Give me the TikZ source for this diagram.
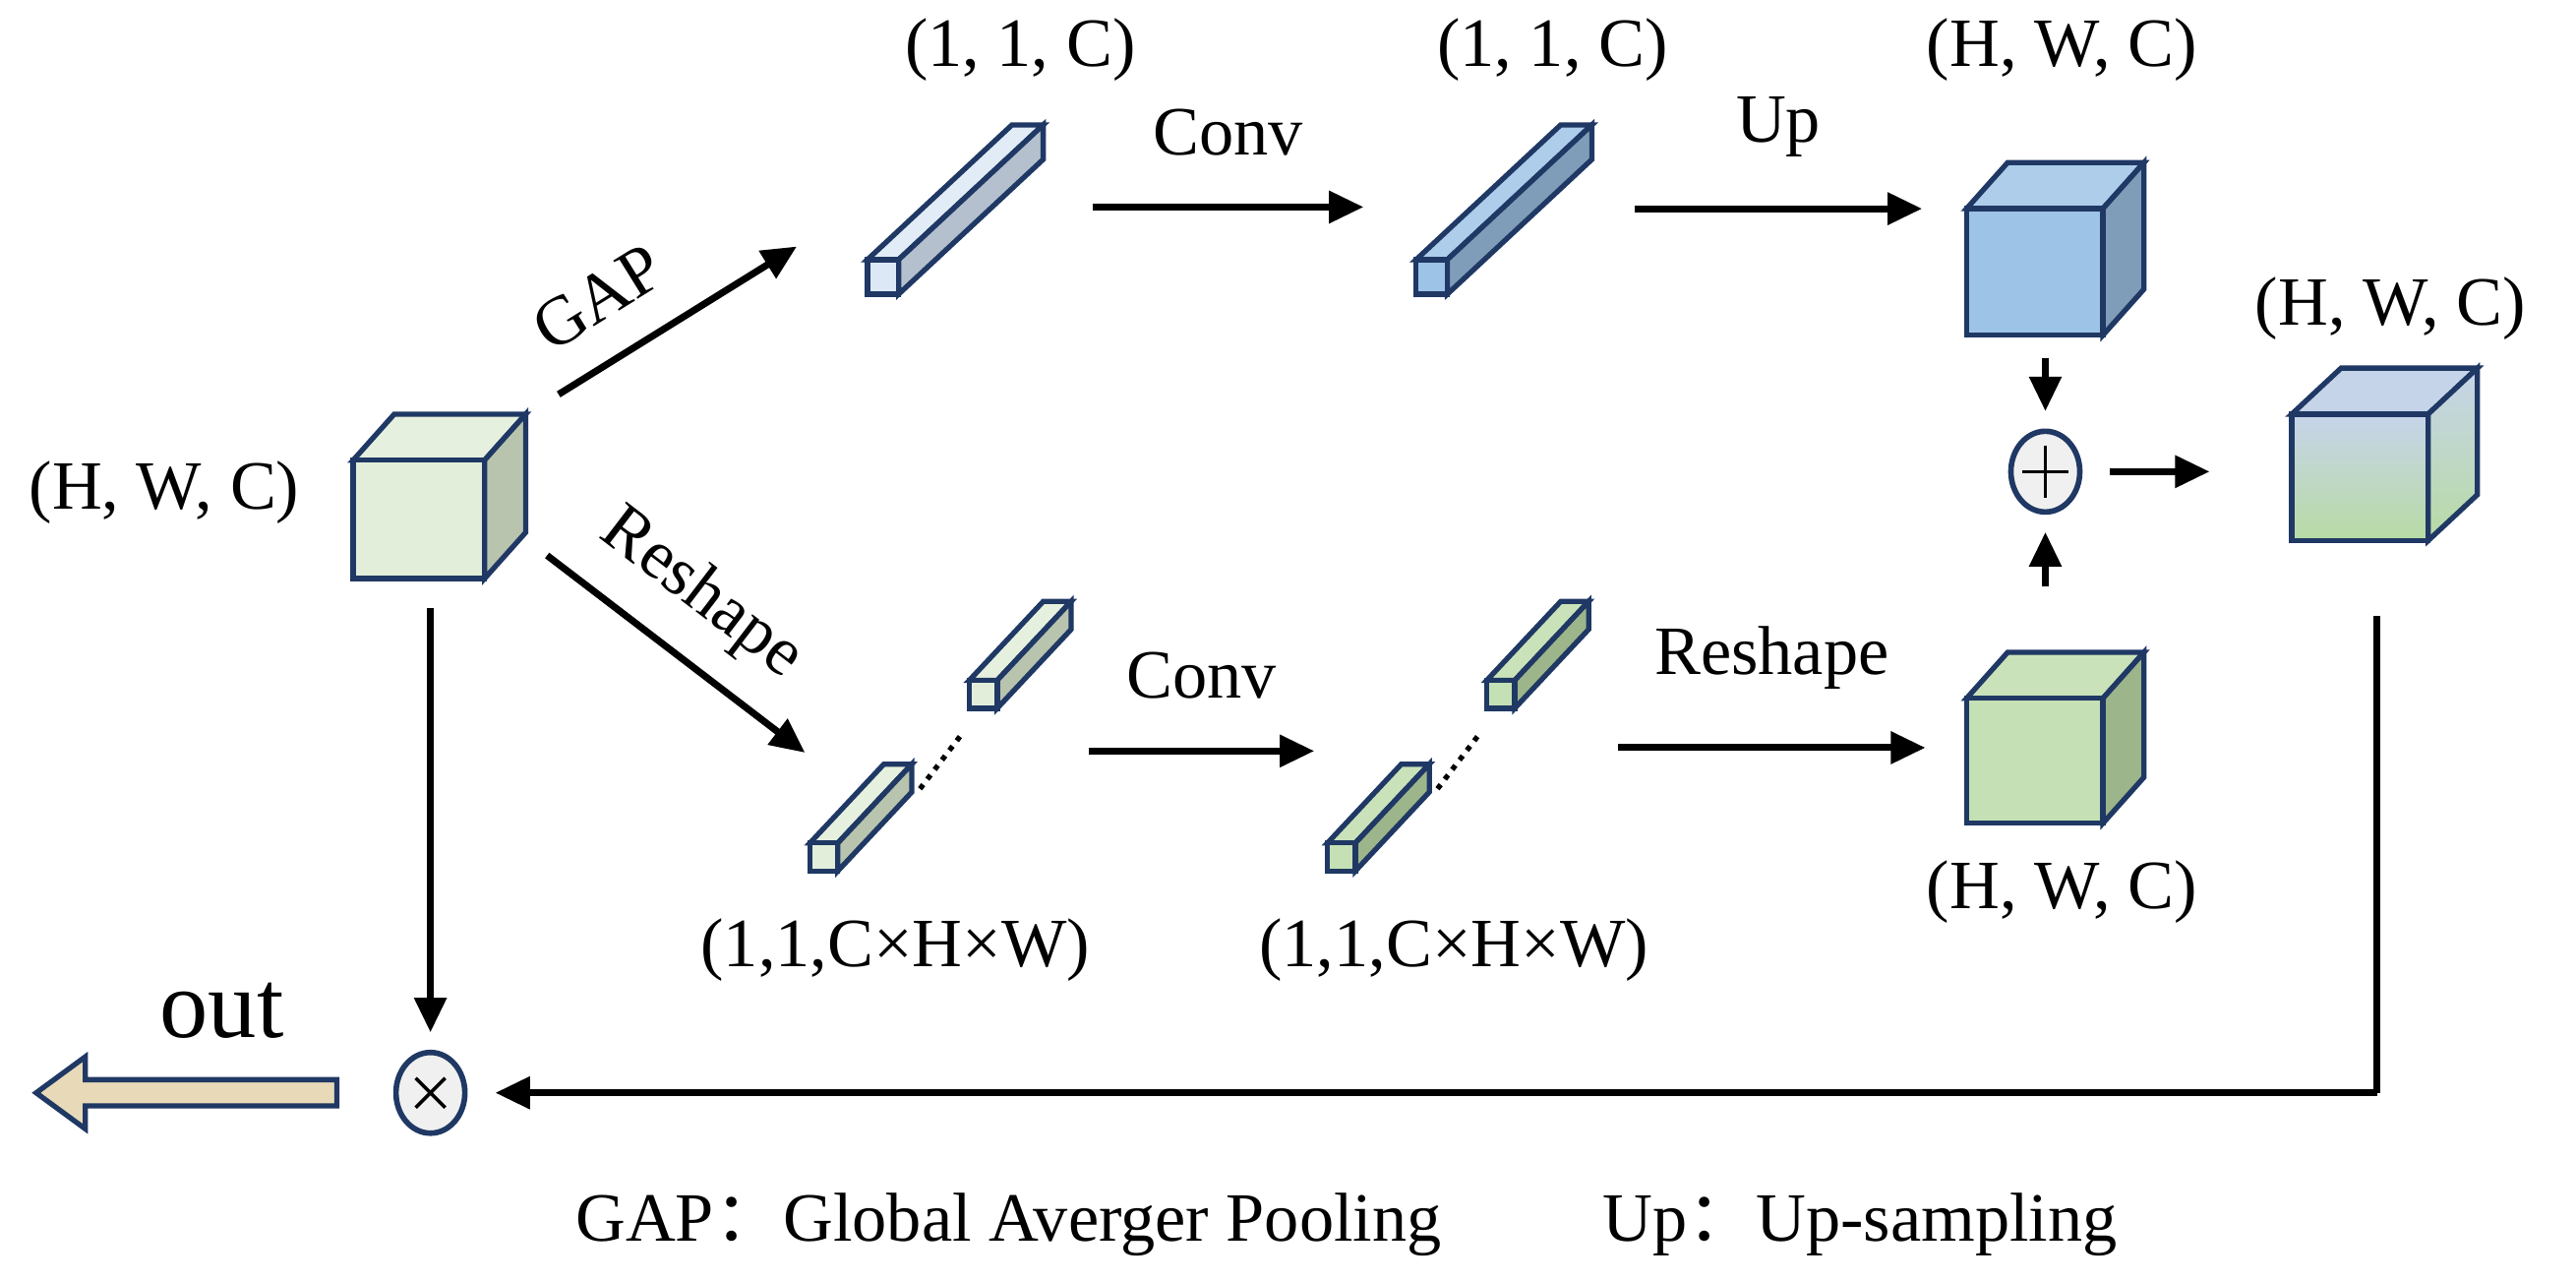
\documentclass[tikz,border=0pt]{standalone}
\usepackage{fontspec}
\setmainfont{Liberation Serif}
\newfontfamily\cjk{Noto Sans CJK SC}
\usetikzlibrary{arrows.meta,shapes.geometric}
\definecolor{edge}{HTML}{1F3864}
\definecolor{lgF}{HTML}{E2EEDA}\definecolor{lgT}{HTML}{E6F0DE}\definecolor{lgS}{HTML}{B8C4AE}
\definecolor{lbF}{HTML}{DCE8F5}\definecolor{lbT}{HTML}{E2ECF7}\definecolor{lbS}{HTML}{B4C0CE}
\definecolor{bF}{HTML}{9DC3E6}\definecolor{bT}{HTML}{ADCDEB}\definecolor{bS}{HTML}{7F9DB8}
\definecolor{gF}{HTML}{C5E0B4}\definecolor{gT}{HTML}{C9E2B9}\definecolor{gS}{HTML}{9DB58A}
\definecolor{mT}{HTML}{C6D4EA}\definecolor{mB}{HTML}{B8DBA4}
\definecolor{outc}{HTML}{E8DAB8}
\newcommand\mycube[9]{%
 \draw[edge,line width=1.5pt,line join=miter,fill=#8] (#1,#2) -- ++(#5,-#6) -- ++(#3,0) -- ++(-#5,#6) -- cycle;
 \draw[edge,line width=1.5pt,line join=miter,fill=#9] ({#1+#3},#2) -- ++(#5,-#6) -- ++(0,#4) -- ++(-#5,#6) -- cycle;
 \draw[edge,line width=1.5pt,line join=miter,fill=#7] (#1,#2) rectangle ++(#3,#4);}
\begin{document}
\begin{tikzpicture}[x=0.0167cm,y=-0.0167cm,
 lbl/.style={font=\fontsize{20}{24}\selectfont,inner sep=0pt},
 arr/.style={line width=2pt,-{Triangle[length=10pt,width=9pt]}},
 op/.style={ellipse,draw=edge,line width=1.6pt,fill=gray!12,minimum width=0.7cm,minimum height=0.82cm,inner sep=0pt}]
\useasboundingbox (0,0) rectangle (1568,780);
% input cube
\mycube{215}{280}{80}{72}{25}{28}{lgF}{lgT}{lgS}
\node[lbl] at (100,300) {(H, W, C)};
% top bars
\mycube{528}{158}{19}{21}{88}{82}{lbF}{lbT}{lbS}
\mycube{862}{158}{19}{21}{88}{82}{bF}{bT}{bS}
\node[lbl] at (621,30) {(1, 1, C)};
\node[lbl] at (945,30) {(1, 1, C)};
% blue cube
\mycube{1197}{127}{83}{77}{25}{28}{bF}{bT}{bS}
\node[lbl] at (1255,30) {(H, W, C)};
% green cube
\mycube{1197}{425}{83}{76}{25}{28}{gF}{gT}{gS}
\node[lbl] at (1255,543) {(H, W, C)};
% mixed cube
\shade[top color=mT,bottom color=mT] (1395,252) -- ++(30,-28) -- ++(83,0) -- ++(-30,28) -- cycle;
\draw[edge,line width=1.5pt] (1395,252) -- ++(30,-28) -- ++(83,0) -- ++(-30,28) -- cycle;
\shade[top color=mT,bottom color=mB] (1478,252) -- ++(30,-28) -- ++(0,77) -- ++(-30,28) -- cycle;
\draw[edge,line width=1.5pt] (1478,252) -- ++(30,-28) -- ++(0,77) -- ++(-30,28) -- cycle;
\shade[top color=mT,bottom color=mB] (1395,252) rectangle (1478,329);
\draw[edge,line width=1.5pt] (1395,252) rectangle (1478,329);
\node[lbl] at (1455,188) {(H, W, C)};
% bottom bars
\mycube{493}{513}{17}{17}{45}{48}{lgF}{lgT}{lgS}
\mycube{590}{414}{17}{17}{45}{48}{lgF}{lgT}{lgS}
\draw[line width=1.5pt,dotted] (560,480) -- (586,446);
\mycube{808}{513}{17}{17}{45}{48}{gF}{gT}{gS}
\mycube{905}{414}{17}{17}{45}{48}{gF}{gT}{gS}
\draw[line width=1.5pt,dotted] (875,480) -- (901,446);
\node[lbl] at (545,578) {(1,1,C×H×W)};
\node[lbl] at (885,578) {(1,1,C×H×W)};
% coordinates
\coordinate (g1) at (340,240); \coordinate (g2) at (485,150);
\coordinate (r1) at (333,338); \coordinate (r2) at (490,458);
\coordinate (c1) at (665,126); \coordinate (c2) at (830,126);
\coordinate (u1) at (995,127); \coordinate (u2) at (1170,127);
\coordinate (b1) at (663,457); \coordinate (b2) at (800,457);
\coordinate (s1) at (985,455); \coordinate (s2) at (1172,455);
\coordinate (bc) at (1245,218); \coordinate (gc) at (1245,357);
\coordinate (mx) at (1345,287);
\coordinate (in) at (262,370);
\coordinate (m1) at (1447,375); \coordinate (m2) at (1447,665);
\node[op] (plus) at (1245,287) {};
\draw[line width=1pt] (plus.center) +(-14,0) -- +(14,0) +(0,-16) -- +(0,16);
\node[op] (times) at (262,665) {};
\draw[line width=1pt] (times.center) +(-9,-9) -- +(9,9) +(-9,9) -- +(9,-9);
% arrows
\draw[arr] (g1) -- node[lbl,sloped,above=10pt,pos=0.3] {GAP} (g2);
\draw[arr] (r1) -- node[lbl,sloped,above=8pt,pos=0.45] {Reshape} (r2);
\draw[arr] (c1) -- node[lbl,above=14pt] {Conv} (c2);
\draw[arr] (u1) -- node[lbl,above=14pt] {Up} (u2);
\draw[arr] (b1) -- node[lbl,above=14pt] {Conv} (b2);
\draw[arr] (s1) -- node[lbl,above=16pt] {Reshape} (s2);
\draw[arr,shorten >=5pt] (bc) -- (plus);
\draw[arr,shorten >=5pt] (gc) -- (plus);
\draw[arr,shorten <=8pt] (plus) -- (mx);
\draw[arr,shorten >=5pt] (in) -- (times);
\draw[line width=2pt] (m1) -- (m2);
\draw[arr,shorten >=8pt] (m2) -- (times);
% out block arrow
\draw[edge,line width=1.5pt,fill=outc] (205,657) -- (52,657) -- (52,643) -- (22,665) -- (52,687) -- (52,673) -- (205,673) -- cycle;
\node[lbl,font=\fontsize{28}{32}\selectfont] at (135,615) {out};
% legend
\node[lbl,anchor=west] at (350,745) {GAP{\cjk ：}Global Averger Pooling};
\node[lbl,anchor=west] at (975,745) {Up{\cjk ：}Up-sampling};
\end{tikzpicture}
\end{document}
